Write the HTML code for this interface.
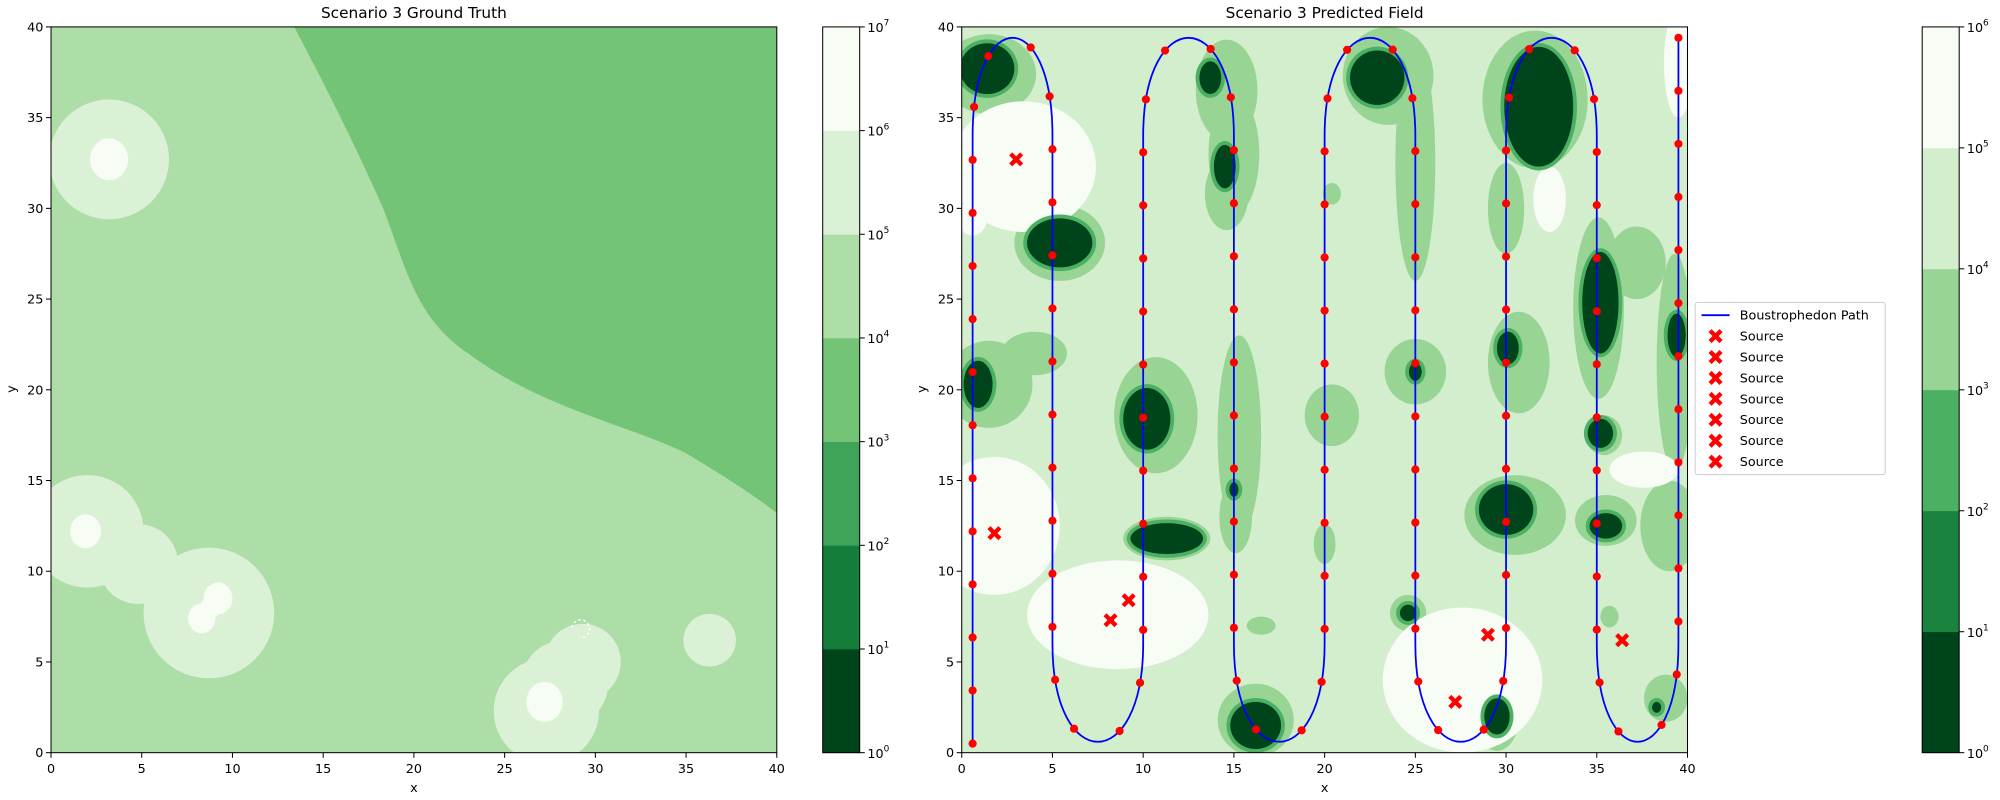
<!DOCTYPE html>
<html><head><meta charset="utf-8"><style>
html,body{margin:0;padding:0;background:#fff}
svg{display:block;font-family:"DejaVu Sans","Liberation Sans",sans-serif}
</style></head><body>
<svg id="fig" width="2000" height="800" viewBox="0 0 1568 627" xmlns="http://www.w3.org/2000/svg">
<defs>
<clipPath id="clipL"><rect x="40" y="21" width="569" height="569"/></clipPath>
<clipPath id="clipR"><rect x="754" y="21" width="569" height="569"/></clipPath>
</defs>
<g id="left"></g>
<g id="right"></g>
</svg>
<script>
// ---- data ----
const ticks = [0,5,10,15,20,25,30,35,40];
const gtColors = ["#00441b","#137d39","#3fa45a","#73c476","#aedea7","#dbf1d6","#f7fcf5"];
const gtExps = [0,1,2,3,4,5,6,7];
const prColors = ["#00441b","#1a843f","#4bb062","#98d594","#d3eecd","#f7fcf5"];
const prExps = [0,1,2,3,4,5,6];
// ground truth light circles [cx,cy,r]
const gtMid = [[3.2,32.7,3.3],[2.0,12.2,3.1],[8.7,7.7,3.6],[4.8,10.4,2.2],[29.3,5.0,2.1],[27.3,2.3,2.9],[28.3,3.8,2.4],[36.3,6.2,1.45]];
const gtWhite = [[3.2,32.7,1.05],[1.9,12.2,0.85],[9.2,8.5,0.8],[8.3,7.4,0.75],[8.75,7.95,0.55],[27.2,2.8,1.0]];
// predicted field blobs [cx,cy,rx,ry]
const prWhite = [[3.4,32.3,4.0,3.6],[0.6,29.5,0.8,1.0],[1.8,12.5,3.6,3.8],[8.6,7.6,5.0,3.0],[27.6,4.0,4.4,4.0],[32.4,30.5,0.9,1.8],[37.6,15.6,1.9,1.0],[39.5,38.0,0.8,3.0]];
const prMid = [[1.5,37.4,2.6,2.2],[1.5,20.3,2.4,2.4],[4.0,22.0,1.8,1.2],[5.4,28.1,2.5,2.1],[14.6,36.5,1.7,2.8],[15.0,33.0,1.4,3.3],[14.6,30.8,1.2,2.0],[10.7,18.6,2.3,3.2],[11.3,11.8,2.4,1.2],[15.3,17.5,1.2,5.5],[15.1,13.0,0.9,2.0],[20.4,18.6,1.5,1.7],[23.5,37.3,2.5,2.7],[25.0,32.5,1.1,6.5],[25.0,21.0,1.7,1.8],[31.6,36.0,2.9,3.8],[30.0,30.0,1.0,2.5],[30.7,21.5,1.7,2.8],[30.5,13.1,2.8,2.2],[35.1,24.5,1.4,5.0],[35.5,12.8,1.7,1.4],[37.2,27.0,1.6,2.0],[35.4,17.5,1.0,1.1],[39.3,21.5,1.0,6.0],[39.0,12.5,1.6,2.5],[29.5,1.9,1.2,1.8],[16.2,1.8,2.1,2.0],[24.6,7.7,1.0,1.0],[38.8,3.0,1.2,1.3],[35.7,7.5,0.5,0.6],[16.5,7.0,0.8,0.5],[20.4,30.8,0.5,0.6],[20.0,11.5,0.6,1.1]];
const prDark = [[1.4,37.7,1.5,1.4],[0.9,20.3,0.8,1.3],[5.4,28.1,1.8,1.35],[13.7,37.2,0.6,0.9],[14.5,32.3,0.6,1.2],[10.2,18.4,1.3,1.7],[11.3,11.8,2.0,0.85],[22.9,37.2,1.5,1.5],[25.0,21.0,0.35,0.5],[31.8,35.6,1.9,3.3],[30.1,22.3,0.6,0.9],[30.0,13.4,1.5,1.4],[35.2,24.8,1.0,2.8],[35.2,17.6,0.7,0.8],[35.5,12.5,0.9,0.7],[39.4,23.0,0.5,1.2],[29.5,2.0,0.7,1.0],[16.2,1.5,1.4,1.3],[24.6,7.7,0.45,0.45],[15.0,14.5,0.25,0.4],[38.3,2.5,0.25,0.3]];
const pathCols = [0.6,5.0,10.0,15.0,20.0,25.0,30.0,35.0,39.5];
const pathBottom = [0.5,3,3,3,3,3,3,3,3];
const sources = [[3.0,32.7],[1.8,12.1],[9.2,8.4],[8.2,7.3],[27.2,2.8],[29.0,6.5],[36.4,6.2]];
const legendLabels = ["Boustrophedon Path","Source","Source","Source","Source","Source","Source","Source"];
// ---- helpers ----
const NS="http://www.w3.org/2000/svg";
const S=569/40;
const XL=v=>40+v*S, XR=v=>754+v*S, Y=v=>590-v*S;
function el(tag,attrs,parent){const e=document.createElementNS(NS,tag);for(const k in attrs)e.setAttribute(k,attrs[k]);parent.appendChild(e);return e;}
const L=document.getElementById('left'), R=document.getElementById('right');

function axes(g,X,x0,title,name){
  for(const t of ticks){
    const tx=el('line',{x1:X(t),x2:X(t),y1:590,y2:594,stroke:'#000','stroke-width':0.8},g);
    
    
    const lx=el('text',{x:X(t),y:606,'font-size':10,'text-anchor':'middle'},g);lx.textContent=t;
    
    
    const ty=el('line',{x1:x0-4,x2:x0,y1:Y(t),y2:Y(t),stroke:'#000','stroke-width':0.8},g);
    
    
    const ly=el('text',{x:x0-6,y:Y(t)+3.5,'font-size':10,'text-anchor':'end'},g);ly.textContent=t;
    
    
  }
  const fr=el('rect',{x:x0,y:21,width:569,height:569,fill:'none',stroke:'#000','stroke-width':0.8},g);
  
  
  const xt=el('text',{x:x0+284.5,y:621,'font-size':10,'text-anchor':'middle'},g);xt.textContent='x';
  
  
  const yt=el('text',{x:0,y:0,'font-size':10,'text-anchor':'middle',transform:`translate(${x0-28},305) rotate(-90)`},g);yt.textContent='y';
  
  
  const tt=el('text',{x:x0+284.5,y:14,'font-size':12,'text-anchor':'middle'},g);tt.textContent=title;
  
  
}
function colorbar(g,x,colors,exps){
  const n=colors.length, h=569/n;
  colors.forEach((c,i)=>{
    const r=el('rect',{x:x,y:590-(i+1)*h,width:29,height:h+0.3,fill:c},g);
    
    
  });
  el('rect',{x:x,y:21,width:29,height:569,fill:'none',stroke:'#000','stroke-width':0.8},g);
  exps.forEach((e,i)=>{
    const yy=590-i*h;
    el('line',{x1:x+29,x2:x+33,y1:yy,y2:yy,stroke:'#000','stroke-width':0.8},g);
    const t=el('text',{x:x+35,y:yy+4,'font-size':10},g);
    
    
    t.appendChild(document.createTextNode('10'));
    const s=el('tspan',{dy:-5,'font-size':7},t);s.textContent=e;
  });
}
// ---- left panel ----
const cl=el('g',{'clip-path':'url(#clipL)'},L);
const bg=el('rect',{x:40,y:21,width:569,height:569,fill:gtColors[4]},cl);


const bd=el('path',{fill:gtColors[3],d:`M${XL(13.4)},${Y(40)} C${XL(15)},${Y(37)} ${XL(17)},${Y(33)} ${XL(18.3)},${Y(30)} C${XL(19.5)},${Y(27)} ${XL(20)},${Y(24)} ${XL(23)},${Y(22)} C${XL(27)},${Y(19)} ${XL(32)},${Y(18)} ${XL(35)},${Y(16.5)} C${XL(37.5)},${Y(15)} ${XL(39)},${Y(14)} ${XL(40)},${Y(13.2)} L${XL(40)},${Y(40)} Z`},cl);


for(const [cx,cy,r] of gtMid){const c=el('circle',{cx:XL(cx),cy:Y(cy),r:r*S,fill:gtColors[5]},cl);
  
  }
for(const [cx,cy,r] of gtWhite){const c=el('ellipse',{cx:XL(cx),cy:Y(cy),rx:r*S,ry:r*S*1.1,fill:gtColors[6]},cl);
  
  }
el('path',{d:`M${XL(28.7)},${Y(6.9)} a7,7 0 1,1 6,8`,fill:'none',stroke:'#fff','stroke-width':1.2,'stroke-dasharray':'2 2'},cl);
axes(L,XL,40,'Scenario 3 Ground Truth','left-title');
const cbL=el('g',{},L);
colorbar(cbL,645,gtColors,gtExps);
// ---- right panel ----
const cr=el('g',{'clip-path':'url(#clipR)'},R);
const bg2=el('rect',{x:754,y:21,width:569,height:569,fill:prColors[4]},cr);


for(const [cx,cy,rx,ry] of prMid){const e=el('ellipse',{cx:XR(cx),cy:Y(cy),rx:rx*S,ry:ry*S,fill:prColors[3]},cr);
  
  }
for(const [cx,cy,rx,ry] of prWhite){const e=el('ellipse',{cx:XR(cx),cy:Y(cy),rx:rx*S,ry:ry*S,fill:prColors[5]},cr);
  
  }
for(const [cx,cy,rx,ry] of prDark){const e=el('ellipse',{cx:XR(cx),cy:Y(cy),rx:rx*S+3,ry:ry*S+3,fill:prColors[2]},cr);
  
  }
for(const [cx,cy,rx,ry] of prDark){const e=el('ellipse',{cx:XR(cx),cy:Y(cy),rx:rx*S,ry:ry*S,fill:prColors[0]},cr);
  
  }
// path
let d=`M${XR(pathCols[0])},${Y(pathBottom[0])}`;
for(let i=0;i<pathCols.length;i++){
  const x=pathCols[i], up=(i%2===0);
  if(up){ d+=` L${XR(x)},${Y(34)}`; if(i+1<pathCols.length){const xb=pathCols[i+1]; d+=` C${XR(x)},${Y(41.2)} ${XR(xb)},${Y(41.2)} ${XR(xb)},${Y(34)}`;} else { d+=` L${XR(x)},${Y(39.4)}`;} }
  else { d+=` L${XR(x)},${Y(6)}`; if(i+1<pathCols.length){const xb=pathCols[i+1]; d+=` C${XR(x)},${Y(-1.2)} ${XR(xb)},${Y(-1.2)} ${XR(xb)},${Y(6)}`;} }
}
const pth=el('path',{d:d,fill:'none',stroke:'#0000ff','stroke-width':1.4},cr);


const tot=pth.getTotalLength(), n=Math.round(tot/41.5);
for(let i=0;i<=n;i++){const p=pth.getPointAtLength(i*tot/n);
  const c=el('circle',{cx:p.x,cy:p.y,r:3.2,fill:'#ff0000'},cr);
  
  }
function xmark(g,x,y,s){const m=el('path',{d:`M${x-s},${y-s} L${x+s},${y+s} M${x-s},${y+s} L${x+s},${y-s}`,stroke:'#ff0000','stroke-width':3.4,'stroke-linecap':'butt'},g);return m;}
for(const [sx,sy] of sources){const m=xmark(cr,XR(sx),Y(sy),4.3);
  
  }
axes(R,XR,754,'Scenario 3 Predicted Field','right-title');
const cbR=el('g',{},R);
colorbar(cbR,1507,prColors,prExps);
// legend
const lg=el('g',{},R);
el('rect',{x:1329,y:237,width:149,height:135,rx:2,fill:'#fff',stroke:'#ccc','stroke-width':0.8},lg);
legendLabels.forEach((t,i)=>{
  const yy=247+i*16.4;
  if(i===0){el('line',{x1:1334,x2:1356,y1:yy,y2:yy,stroke:'#0000ff','stroke-width':1.4},lg);}
  else{xmark(lg,1345,yy,4.3);}
  const tx=el('text',{x:1364,y:yy+3.5,'font-size':10},lg);tx.textContent=t;
  
  
});
</script>
</body></html>
